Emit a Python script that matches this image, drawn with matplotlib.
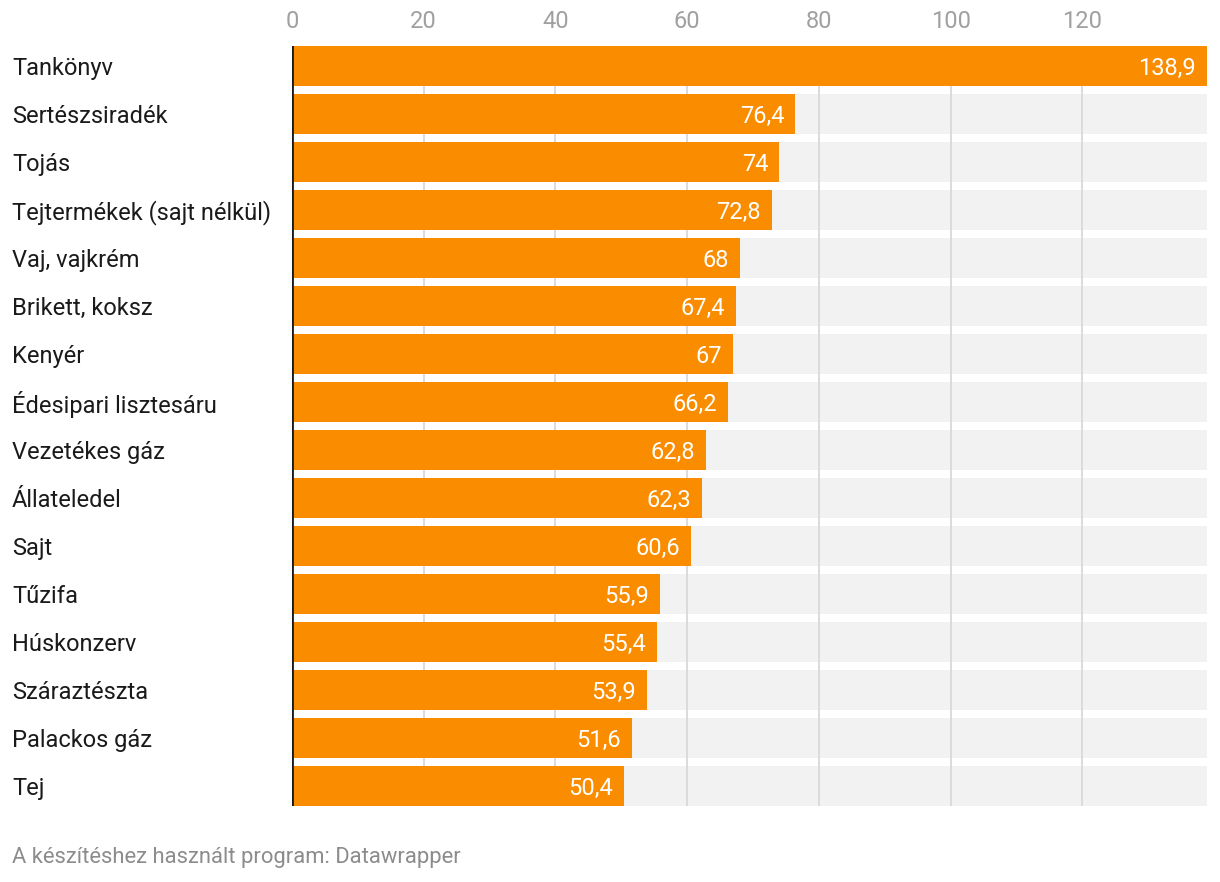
import matplotlib.pyplot as plt
import matplotlib.transforms as mtransforms

categories = ['Tankönyv', 'Sertészsiradék', 'Tojás', 'Tejtermékek (sajt nélkül)',
              'Vaj, vajkrém', 'Brikett, koksz', 'Kenyér', 'Édesipari lisztesáru',
              'Vezetékes gáz', 'Állateledel', 'Sajt', 'Tűzifa', 'Húskonzerv',
              'Száraztészta', 'Palackos gáz', 'Tej']
values = [138.9, 76.4, 74, 72.8, 68, 67.4, 67, 66.2, 62.8, 62.3, 60.6, 55.9,
          55.4, 53.9, 51.6, 50.4]
ticks = [0, 20, 40, 60, 80, 100, 120]

plt.rcParams['font.family'] = ['Roboto', 'DejaVu Sans']

fig = plt.figure(figsize=(12.2, 8.82), dpi=100)
ax = fig.add_axes([292 / 1220, 1 - 806 / 882, (1207 - 292) / 1220, (806 - 46) / 882])

h = 40 / 48
xmax = max(values)
ypos = list(range(len(categories)))

ax.barh(ypos, [xmax] * len(values), height=h, color='#f2f2f2', zorder=1)
for t in ticks[1:]:
    ax.axvline(t, color='#d9d9d9', lw=1.3, zorder=2)
ax.barh(ypos, values, height=h, color='#fa8c00', zorder=3)
ax.axvline(0, color='#1a1a1a', lw=2, zorder=4)

for y, v in zip(ypos, values):
    lab = ('%g' % v).replace('.', ',')
    ax.annotate(lab, (v, y), xytext=(-8, 0), textcoords='offset points',
                ha='right', va='center_baseline', color='white', fontsize=17, zorder=5)

trans = mtransforms.blended_transform_factory(fig.transFigure, ax.transData)
for y, c in zip(ypos, categories):
    ax.text(12 / 1220, y, c, transform=trans, ha='left', va='center_baseline',
            fontsize=17, color='#1a1a1a')

ax.set_xlim(0, xmax)
ax.set_ylim(len(categories) - 1 + h / 2, -h / 2)
ax.xaxis.tick_top()
ax.set_xticks(ticks)
ax.tick_params(axis='x', length=0, pad=9, labelsize=17, labelcolor='#a0a0a0')
ax.set_yticks([])
for s in ax.spines.values():
    s.set_visible(False)

fig.text(12 / 1220, 1 - 858 / 882, 'A készítéshez használt program: Datawrapper',
         ha='left', va='center', fontsize=15.8, color='#8c8c8c')

fig.savefig('out.png', dpi=100)
